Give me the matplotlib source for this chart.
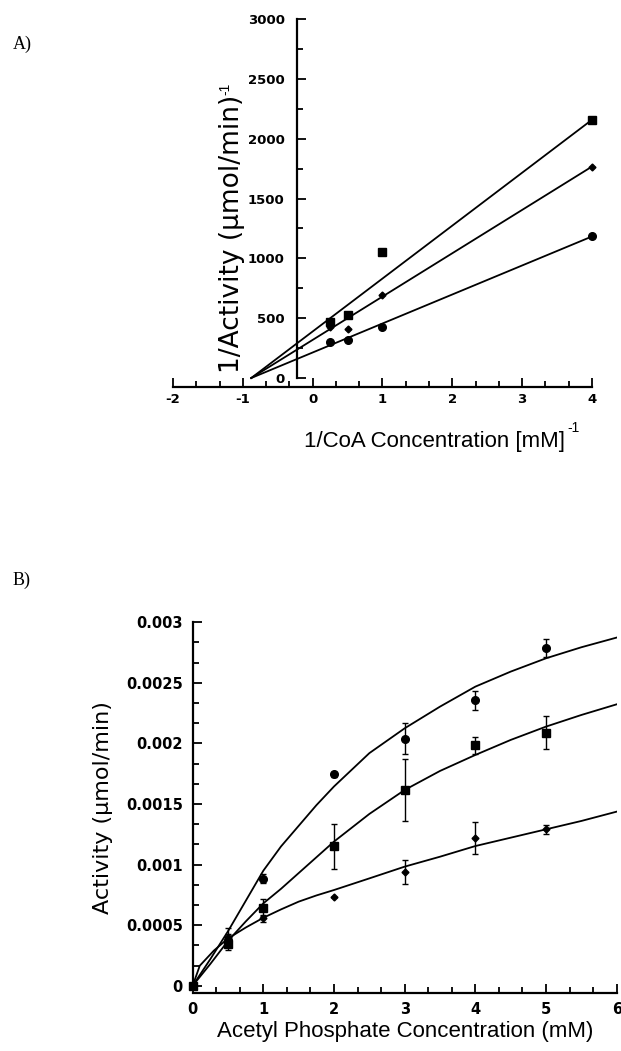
import matplotlib.pyplot as plt
from matplotlib.ticker import MultipleLocator, FixedLocator
import numpy as np

plt.rcParams['axes.unicode_minus'] = False

# panel A: Lineweaver-Burk data, 1/[CoA] vs 1/activity
inv_coa = [0.25, 0.5, 1, 4]
inv_act_sq = [470, 529, 1057, 2160]
inv_act_di = [430, 409, 696, 1767]
inv_act_ci = [300, 320, 426, 1183]

# fitted lines, start and end points
fit_x = [-0.88, 4]
fit_sq = [0, 2158]
fit_di = [0, 1767]
fit_ci = [0, 1183]

# panel B: activity vs acetyl phosphate concentration
acp = [0, 0.5, 1, 2, 3, 4, 5]
act_ci = [0, 0.00038, 0.000885, 0.001745, 0.00204, 0.002355, 0.00279]
err_ci = [0, 0.00005, 0.00004, 0.00002, 0.000125, 0.00008, 0.000075]
act_sq = [0, 0.000345, 0.000645, 0.00115, 0.001615, 0.001985, 0.00209]
err_sq = [0, 0.00005, 0.00007, 0.000185, 0.000255, 0.00007, 0.000135]
act_di = [0, 0.0004, 0.000555, 0.00073, 0.00094, 0.00122, 0.00129]
err_di = [0, 0.00008, 0.00003, 0.0, 0.0001, 0.000135, 0.000035]

# fitted curves
curve_x = [0, 0.25, 0.5, 0.75, 1, 1.25, 1.5, 1.75, 2, 2.5, 3, 3.5, 4, 4.5, 5, 5.5, 6]
curve_ci = [0, 0.00022, 0.00045, 0.0007, 0.00095, 0.00115, 0.00132, 0.00149, 0.001645,
            0.00192, 0.002125, 0.002304, 0.002469, 0.002593, 0.002703, 0.002794, 0.002874]
curve_sq = [0, 0.00018, 0.00037, 0.00053, 0.00068, 0.0008, 0.00093, 0.00106, 0.00119,
            0.001418, 0.001616, 0.001773, 0.001905, 0.002029, 0.002139, 0.002235, 0.002323]
curve_di_x = [0, 0.1, 0.3, 0.5, 0.75, 1, 1.25, 1.5, 1.75, 2, 2.5, 3, 3.5, 4, 4.5, 5, 5.5, 6]
curve_di = [0, 0.000165, 0.00029, 0.00039, 0.00048, 0.000561, 0.00063, 0.000694, 0.000745,
            0.00079, 0.000886, 0.000983, 0.001065, 0.001153, 0.001222, 0.001291, 0.00136, 0.001437]

W, H = 621, 1051
fig = plt.figure(figsize=(W / 100, H / 100), dpi=100)


def style_axes(ax, size, ypad, xpad):
    ax.spines['top'].set_visible(False)
    ax.spines['right'].set_visible(False)
    for s in ['left', 'bottom']:
        ax.spines[s].set_linewidth(1.6)
    ax.tick_params(which='both', direction='in', width=1.3, top=False, right=False)
    ax.tick_params(which='major', length=6.5)
    ax.tick_params(which='minor', length=4)
    ax.tick_params(axis='y', pad=ypad)
    ax.tick_params(axis='x', pad=xpad)
    for lab in ax.get_xticklabels() + ax.get_yticklabels():
        lab.set_fontfamily('DejaVu Sans')
        lab.set_fontweight('bold')
        lab.set_fontsize(size)


# ---- panel A ----
axA = fig.add_axes([173 / W, 1 - 387 / H, (592 - 173) / W, (387 - 19) / H])
axA.set_xlim(-2, 4)
axA.set_ylim(-75, 3000)
axA.spines['left'].set_position(('data', -0.22))
axA.spines['left'].set_bounds(0, 3000)
axA.spines['bottom'].set_bounds(-2, 4)
axA.xaxis.set_major_locator(MultipleLocator(1))
axA.xaxis.set_minor_locator(MultipleLocator(1 / 3))
axA.yaxis.set_major_locator(FixedLocator([0, 500, 1000, 1500, 2000, 2500, 3000]))
axA.yaxis.set_minor_locator(FixedLocator(np.arange(250, 3000, 500)))

axA.plot(fit_x, fit_sq, color='black', lw=1.3)
axA.plot(fit_x, fit_di, color='black', lw=1.3)
axA.plot(fit_x, fit_ci, color='black', lw=1.3)
axA.plot(inv_coa, inv_act_sq, 's', color='black', ms=6, clip_on=False)
axA.plot(inv_coa, inv_act_di, 'D', color='black', ms=3.5, clip_on=False)
axA.plot(inv_coa, inv_act_ci, 'o', color='black', ms=5.5, clip_on=False)
style_axes(axA, 9.5, 9, 4)

fig.text(434 / W, 1 - 441 / H, '1/CoA Concentration [mM]', ha='center', va='center',
         fontsize=16, family='Liberation Sans')
fig.text(567 / W, 1 - 428 / H, '-1', ha='left', va='center', fontsize=10, family='Liberation Sans')
fig.text(232 / W, 1 - 234 / H, '1/Activity (\u00b5mol/min)', ha='center', va='center',
         rotation=90, fontsize=19, family='DejaVu Sans')
fig.text(225 / W, 1 - 89 / H, '-1', ha='center', va='center', rotation=90, fontsize=10,
         family='Liberation Sans')
fig.text(13 / W, 1 - 44 / H, 'A)', ha='left', va='center', fontsize=13, family='Liberation Serif')

# ---- panel B ----
axB = fig.add_axes([192.7 / W, 1 - 993.3 / H, (616.7 - 192.7) / W, (993.3 - 622.3) / H])
axB.set_xlim(0, 6)
axB.set_ylim(-0.0000627, 0.003)
axB.spines['left'].set_bounds(0, 0.003)
axB.xaxis.set_major_locator(MultipleLocator(1))
axB.xaxis.set_minor_locator(MultipleLocator(1 / 3))
axB.yaxis.set_major_locator(FixedLocator([0, 0.0005, 0.001, 0.0015, 0.002, 0.0025, 0.003]))
axB.yaxis.set_minor_locator(FixedLocator([v for v in np.arange(0, 0.003, 0.0005 / 3)
                                          if abs(v / 0.0005 - round(v / 0.0005)) > 0.1]))
axB.yaxis.set_major_formatter(plt.FuncFormatter(lambda v, p: '0' if v == 0 else ('%g' % v)))

axB.plot(curve_x, curve_ci, color='black', lw=1.3)
axB.plot(curve_x, curve_sq, color='black', lw=1.3)
axB.plot(curve_di_x, curve_di, color='black', lw=1.3)
axB.errorbar(acp, act_ci, yerr=err_ci, fmt='o', color='black', ms=5.5, capsize=2.5,
             elinewidth=1, capthick=1, clip_on=False)
axB.errorbar(acp, act_sq, yerr=err_sq, fmt='s', color='black', ms=6, capsize=2.5,
             elinewidth=1, capthick=1, clip_on=False)
axB.errorbar(acp, act_di, yerr=err_di, fmt='D', color='black', ms=3.5, capsize=2.5,
             elinewidth=1, capthick=1, clip_on=False)
style_axes(axB, 10.5, 7, 6)

fig.text(405 / W, 1 - 1031 / H, 'Acetyl Phosphate Concentration (mM)', ha='center', va='center',
         fontsize=16, family='Liberation Sans')
fig.text(103 / W, 1 - 808 / H, 'Activity (\u00b5mol/min)', ha='center', va='center',
         rotation=90, fontsize=16, family='DejaVu Sans')
fig.text(13 / W, 1 - 580 / H, 'B)', ha='left', va='center', fontsize=13, family='Liberation Serif')

fig.savefig('out.png', dpi=100)
